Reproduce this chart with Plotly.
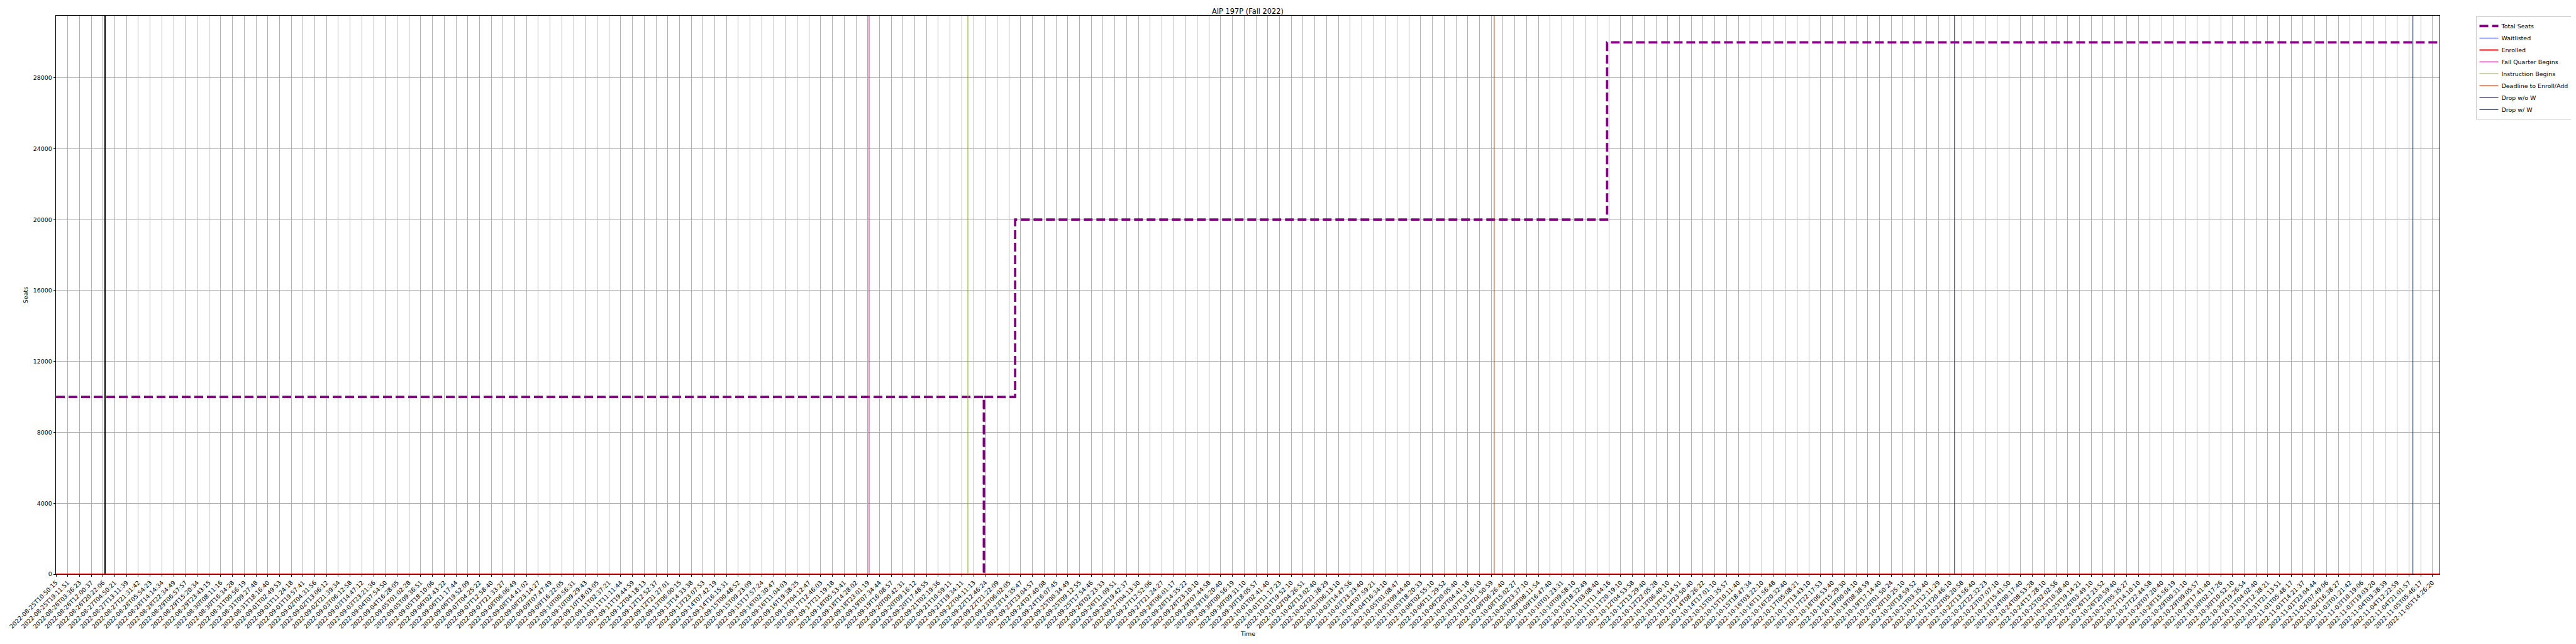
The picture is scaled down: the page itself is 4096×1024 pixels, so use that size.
import numpy as np
import plotly.graph_objects as go

# ---------------- data ----------------
tick_labels = [
    "2022-08-25T10:50:15", "2022-08-25T19:11:51", "2022-08-26T03:36:23", "2022-08-26T12:00:37",
    "2022-08-26T20:22:06", "2022-08-27T04:50:21", "2022-08-27T13:11:39", "2022-08-27T21:31:42",
    "2022-08-28T05:54:23", "2022-08-28T14:14:34", "2022-08-28T22:34:49", "2022-08-29T06:57:57",
    "2022-08-29T15:20:34", "2022-08-29T23:43:15", "2022-08-30T08:11:16", "2022-08-30T16:34:28",
    "2022-08-31T00:56:19", "2022-08-31T09:27:48", "2022-08-31T18:16:40", "2022-09-01T02:49:53",
    "2022-09-01T11:24:18", "2022-09-01T19:57:41", "2022-09-02T04:31:56", "2022-09-02T13:06:12",
    "2022-09-02T21:39:34", "2022-09-03T06:12:58", "2022-09-03T14:47:12", "2022-09-03T23:21:36",
    "2022-09-04T07:54:50", "2022-09-04T16:28:05", "2022-09-05T01:02:28", "2022-09-05T09:36:51",
    "2022-09-05T18:10:06", "2022-09-06T02:43:22", "2022-09-06T11:17:44", "2022-09-06T19:52:09",
    "2022-09-07T04:25:22", "2022-09-07T12:58:40", "2022-09-07T21:33:27", "2022-09-08T06:06:49",
    "2022-09-08T14:41:02", "2022-09-08T23:14:27", "2022-09-09T07:47:49", "2022-09-09T16:22:05",
    "2022-09-10T00:56:31", "2022-09-10T09:29:43", "2022-09-10T18:03:05", "2022-09-11T02:37:21",
    "2022-09-11T11:11:44", "2022-09-11T19:44:59", "2022-09-12T04:18:13", "2022-09-12T12:52:37",
    "2022-09-12T21:27:01", "2022-09-13T06:00:15", "2022-09-13T14:33:38", "2022-09-13T23:07:53",
    "2022-09-14T07:42:19", "2022-09-14T16:15:31", "2022-09-15T00:48:52", "2022-09-15T09:23:09",
    "2022-09-15T17:57:24", "2022-09-16T02:30:47", "2022-09-16T11:04:03", "2022-09-16T19:38:25",
    "2022-09-17T04:12:47", "2022-09-17T12:46:03", "2022-09-17T21:19:18", "2022-09-18T05:53:41",
    "2022-09-18T14:28:02", "2022-09-18T23:01:19", "2022-09-19T07:34:44", "2022-09-19T16:08:57",
    "2022-09-20T00:42:31", "2022-09-20T09:16:12", "2022-09-20T17:48:55", "2022-09-21T02:19:36",
    "2022-09-21T10:59:11", "2022-09-21T19:34:11", "2022-09-22T04:11:13", "2022-09-22T12:46:24",
    "2022-09-22T21:22:09", "2022-09-23T06:02:05", "2022-09-23T14:35:47", "2022-09-23T23:04:57",
    "2022-09-24T07:40:08", "2022-09-24T16:07:45", "2022-09-25T00:34:49", "2022-09-25T09:12:55",
    "2022-09-25T17:54:46", "2022-09-26T02:23:33", "2022-09-26T11:09:51", "2022-09-26T19:42:37",
    "2022-09-27T04:13:30", "2022-09-27T12:52:06", "2022-09-27T21:24:27", "2022-09-28T06:01:17",
    "2022-09-28T14:35:22", "2022-09-28T23:10:10", "2022-09-29T07:44:58", "2022-09-29T16:20:40",
    "2022-09-30T00:56:19", "2022-09-30T09:31:10", "2022-09-30T18:05:57", "2022-10-01T02:41:40",
    "2022-10-01T11:17:23", "2022-10-01T19:52:10", "2022-10-02T04:26:51", "2022-10-02T13:02:40",
    "2022-10-02T21:38:29", "2022-10-03T06:13:10", "2022-10-03T14:47:56", "2022-10-03T23:23:40",
    "2022-10-04T07:59:21", "2022-10-04T16:34:10", "2022-10-05T01:08:47", "2022-10-05T09:44:40",
    "2022-10-05T18:20:33", "2022-10-06T02:55:10", "2022-10-06T11:29:52", "2022-10-06T20:05:40",
    "2022-10-07T04:41:18", "2022-10-07T13:16:10", "2022-10-07T21:50:59", "2022-10-08T06:26:40",
    "2022-10-08T15:02:27", "2022-10-08T23:37:10", "2022-10-09T08:11:54", "2022-10-09T16:47:40",
    "2022-10-10T01:23:31", "2022-10-10T09:58:10", "2022-10-10T18:32:49", "2022-10-11T03:08:40",
    "2022-10-11T11:44:16", "2022-10-11T20:19:10", "2022-10-12T04:53:58", "2022-10-12T13:29:40",
    "2022-10-12T22:05:28", "2022-10-13T06:40:10", "2022-10-13T15:14:51", "2022-10-13T23:50:40",
    "2022-10-14T08:26:22", "2022-10-14T17:01:10", "2022-10-15T01:35:57", "2022-10-15T10:11:40",
    "2022-10-15T18:47:34", "2022-10-16T03:22:10", "2022-10-16T11:56:48", "2022-10-16T20:32:40",
    "2022-10-17T05:08:21", "2022-10-17T13:43:10", "2022-10-17T22:17:53", "2022-10-18T06:53:40",
    "2022-10-18T15:29:30", "2022-10-19T00:04:10", "2022-10-19T08:38:59", "2022-10-19T17:14:40",
    "2022-10-20T01:50:24", "2022-10-20T10:25:10", "2022-10-20T18:59:52", "2022-10-21T03:35:40",
    "2022-10-21T12:11:29", "2022-10-21T20:46:10", "2022-10-22T05:20:58", "2022-10-22T13:56:40",
    "2022-10-22T22:32:23", "2022-10-23T07:07:10", "2022-10-23T15:41:50", "2022-10-24T00:17:40",
    "2022-10-24T08:53:28", "2022-10-24T17:28:10", "2022-10-25T02:02:56", "2022-10-25T10:38:40",
    "2022-10-25T19:14:21", "2022-10-26T03:49:10", "2022-10-26T12:23:52", "2022-10-26T20:59:40",
    "2022-10-27T05:35:27", "2022-10-27T14:10:10", "2022-10-27T22:44:58", "2022-10-28T07:20:40",
    "2022-10-28T15:56:19", "2022-10-29T00:31:10", "2022-10-29T09:05:57", "2022-10-29T17:41:40",
    "2022-10-30T02:17:26", "2022-10-30T10:52:10", "2022-10-30T19:26:54", "2022-10-31T04:02:40",
    "2022-10-31T12:38:21", "2022-10-31T21:13:51", "2022-11-01T05:48:17", "2022-11-01T14:21:37",
    "2022-11-01T23:04:44", "2022-11-02T07:49:06", "2022-11-02T16:38:27", "2022-11-03T01:21:42",
    "2022-11-03T10:19:06", "2022-11-03T19:03:20", "2022-11-04T03:38:39", "2022-11-04T12:22:59",
    "2022-11-04T21:01:57", "2022-11-05T05:46:17", "2022-11-05T14:26:20",
]

seat_times = ["2022-08-25T10:50:15", "2022-09-22T11:40:00", "2022-09-22T11:50:00",
              "2022-09-23T10:35:00", "2022-10-11T10:25:00", "2022-11-05T19:40:00"]
total_seats = [10000, 0, 10000, 20000, 30000, 30000]
waitlisted = [0, 0, 0, 0, 0, 0]
enrolled = [0, 0, 0, 0, 0, 0]

event_names = ["Fall Quarter Begins", "Instruction Begins", "Deadline to Enroll/Add",
               "Drop w/o W", "Drop w/ W"]
event_dates = ["2022-09-19T00:00:00", "2022-09-22T00:00:00", "2022-10-08T00:00:00",
               "2022-10-22T00:00:00", "2022-11-05T00:00:00"]
event_colors = ["#d81b93", "#8fba14", "#c8441e", "#382f88", "#2f3b5c"]
extra_line_date = "2022-08-26T21:50:00"

y_ticks = [0, 4000, 8000, 12000, 16000, 20000, 24000, 28000]
y_max = 31500

# ---------------- helpers ----------------
S = 0.682
FONT = "DejaVu Sans"
# the page body has an 8px margin: the figure is sized so that it fills the
# window exactly, and window positions are shifted by that offset
OFF = 8
W, H = 4096 - 2 * OFF, 1024 - 2 * OFF

tick_sec = np.array([np.datetime64(t, "s").astype(np.int64) for t in tick_labels], dtype=float)
tick_idx = np.arange(len(tick_labels), dtype=float)


def pos(ts):
    s = float(np.datetime64(ts, "s").astype(np.int64))
    if s > tick_sec[-1]:
        return tick_idx[-1] + (s - tick_sec[-1]) / (tick_sec[-1] - tick_sec[-2])
    return float(np.interp(s, tick_sec, tick_idx))


seat_x = [pos(t) for t in seat_times]
x_max = seat_x[-1]

fig = go.Figure()

fig.add_trace(go.Scatter(
    x=[pos(extra_line_date)] * 2, y=[0, y_max], mode="lines",
    line=dict(color="black", width=3.0 * S), showlegend=False, hoverinfo="skip"))

fig.add_trace(go.Scatter(
    x=seat_x, y=total_seats, mode="lines", name="Total Seats", line_shape="hv",
    line=dict(color="#800080", width=5.5 * S, dash=f"{20.5 * S:.1f}px,{8.8 * S:.1f}px")))
fig.add_trace(go.Scatter(
    x=seat_x, y=waitlisted, mode="lines", name="Waitlisted", line_shape="hv",
    line=dict(color="blue", width=1.5 * S)))
fig.add_trace(go.Scatter(
    x=seat_x, y=enrolled, mode="lines", name="Enrolled", line_shape="hv",
    line=dict(color="red", width=3.0 * S)))

for name, d, c in zip(event_names, event_dates, event_colors):
    p = pos(d)
    fig.add_trace(go.Scatter(
        x=[p, p], y=[0, y_max], mode="lines", name=name,
        line=dict(color=c, width=1.7 * S)))

axis_common = dict(
    showgrid=True, gridcolor="#b0b0b0", gridwidth=1.1 * S,
    showline=True, linecolor="black", linewidth=1.1 * S, mirror=True,
    ticks="outside", ticklen=4.9 * S, tickwidth=1.1 * S, tickcolor="black",
    tickfont=dict(family=FONT, size=13.9 * S, color="black"),
    zeroline=False, automargin=False,
)

# plot area in window pixels (0.682 of the reference)
plot_left, plot_right = 131 * S, 5687 * S
plot_top, plot_bottom = 37 * S, 1339 * S
ml = plot_left - OFF
mr = W - (plot_right - OFF)
mt = plot_top - OFF
mb = H - (plot_bottom - OFF)
plot_h = plot_bottom - plot_top

fig.update_layout(
    width=W, height=H,
    margin=dict(l=ml, r=mr, t=mt, b=mb, pad=0),
    paper_bgcolor="white", plot_bgcolor="white",
    font=dict(family=FONT, size=13.9 * S, color="black"),
    title=dict(text="AIP 197P (Fall 2022)", x=0.5, xref="paper",
               y=1 - (27 * S - OFF) / H, yref="container", yanchor="middle", xanchor="center",
               font=dict(family=FONT, size=16.7 * S, color="black")),
    xaxis=dict(range=[0, x_max], tickmode="array", tickvals=list(tick_idx),
               ticktext=tick_labels, tickangle=-45, **axis_common),
    yaxis=dict(range=[0, y_max], tickmode="array", tickvals=y_ticks,
               ticktext=[str(v) for v in y_ticks],
               title=dict(text="Seats", font=dict(family=FONT, size=13.9 * S), standoff=6),
               **axis_common),
    legend=dict(xref="container", yref="container",
                x=(5772 * S - OFF) / W, y=1 - (38 * S - OFF) / H,
                xanchor="left", yanchor="top", bgcolor="white",
                bordercolor="#cccccc", borderwidth=1,
                font=dict(family=FONT, size=13.9 * S, color="black"),
                tracegroupgap=0, itemwidth=30),
    showlegend=True,
    annotations=[dict(text="Time", xref="paper", yref="paper", x=0.5,
                      y=-(1477 * S - plot_bottom) / plot_h, xanchor="center", yanchor="middle",
                      showarrow=False, font=dict(family=FONT, size=13.9 * S, color="black"))],
)

fig.write_html("out.html")
